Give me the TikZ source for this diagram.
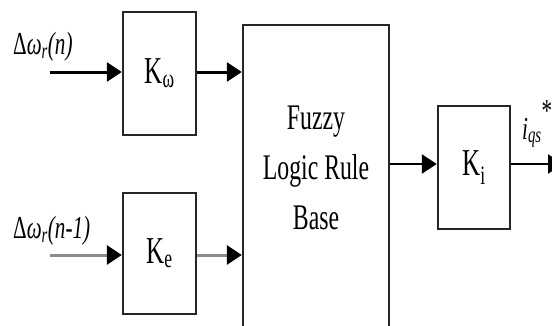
\documentclass[tikz,border=0pt]{standalone}
\usepackage{fontspec}
\setmainfont[FakeStretch=0.66]{Liberation Serif}
\usetikzlibrary{arrows.meta}
\tikzset{
  block/.style={draw=black!85, line width=2.4pt, rectangle, inner sep=0pt},
  sig/.style={line width=3pt, draw=black,
    -{Triangle[length=15pt,width=19pt,color=black]}},
  greysig/.style={sig, draw=black!45},
  blocktext/.style={font=\fontsize{36}{50}\selectfont, align=center},
  gaintext/.style={font=\fontsize{38}{44}\selectfont},
  lbl/.style={font=\fontsize{32}{36}\selectfont, inner sep=0pt}
}
\begin{document}
\begin{tikzpicture}[x=1pt, y=-1pt]
  \useasboundingbox[fill=white] (0,0) rectangle (552,325);

  % gain blocks and rule base
  \node[block, minimum width=73pt, minimum height=123pt, gaintext] (kw) at (159.5,73.5) {K\textsubscript{ω}};
  \node[block, minimum width=73pt, minimum height=121pt, gaintext] (ke) at (159.5,253.5) {K\textsubscript{e}};
  \node[block, minimum width=146pt, minimum height=310pt] (flrb) at (316,180) {};
  \node[blocktext] (flrbtext) at (316,168) {Fuzzy\\Logic Rule\\Base};
  \node[block, minimum width=72pt, minimum height=123pt, gaintext] (ki) at (474,167.5) {K\textsubscript{i}};

  % signal labels
  \node[lbl, anchor=west] (lin1) at (13,47) {Δ\textit{ω\textsubscript{r}(n)}};
  \node[lbl, anchor=west] (lin2) at (13,231) {Δ\textit{ω\textsubscript{r}(n-1)}};
  \node[lbl, anchor=west] (lout) at (522,124) {\textit{i\textsubscript{qs}}\raisebox{0.55em}{*}};

  % signal ends
  \coordinate (in1) at (50,72);
  \coordinate (in2) at (50,255);
  \coordinate (out) at (563,164);

  % connectors
  \draw[sig] (in1) -- (in1 -| kw.west);
  \draw[sig] (kw.east |- in1) -- (in1 -| flrb.west);
  \draw[greysig] (in2) -- (in2 -| ke.west);
  \draw[greysig] (ke.east |- in2) -- (in2 -| flrb.west);
  \draw[sig, line width=2.4pt] (flrb.east |- out) -- (out -| ki.west);
  \draw[sig, line width=2.4pt] (ki.east |- out) -- (out);
\end{tikzpicture}
\end{document}
